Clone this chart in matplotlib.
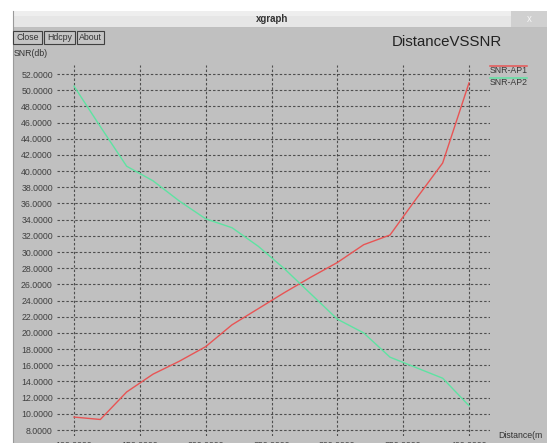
import matplotlib
matplotlib.use("Agg")
import matplotlib.pyplot as plt
from matplotlib.patches import Rectangle
from matplotlib.lines import Line2D

# ---- data ----
distance = [100, 120, 140, 160, 180, 200, 220, 240, 260, 280, 300, 320, 340, 360, 380, 400]
snr_ap1 = [9.6, 9.3, 12.7, 14.9, 16.5, 18.3, 21.0, 23.0, 25.0, 26.9, 28.7, 30.9, 32.1, 36.6, 41.0, 50.9]
snr_ap2 = [50.5, 45.5, 40.6, 38.8, 36.3, 34.1, 33.0, 30.7, 27.9, 24.8, 21.7, 20.0, 17.0, 15.7, 14.4, 11.0]
series_names = ["SNR-AP1", "SNR-AP2"]
yticks = list(range(8, 53, 2))
xticks = [100, 150, 200, 250, 300, 350, 400]
title = "DistanceVSSNR"
ylabel = "SNR(db)"
xlabel = "Distance(m"
buttons = ["Close", "Hdcpy", "About"]

W, H = 547, 443
FONT = "Liberation Sans"
plt.rcParams['font.family'] = [FONT, 'DejaVu Sans']

fig = plt.figure(figsize=(W / 100, H / 100), dpi=100)
fig.patch.set_facecolor("white")

def fx(x):
    return x / W

def fy(y):
    return 1 - y / H

def rect(x0, y0, x1, y1, z, **kw):
    fig.patches.append(Rectangle((fx(x0), fy(y1)), fx(x1) - fx(x0), fy(y0) - fy(y1),
                                 transform=fig.transFigure, zorder=z, **kw))

# window frame
rect(13, 27, W, H, -10, facecolor="#c0c0c0", edgecolor="none")
rect(13, 11, W, 27, -9, facecolor="#e6e6e6", edgecolor="#bcbcbc", linewidth=0.6)
rect(13, 11, W, 16, -8, facecolor="#eeeeee", edgecolor="none")
rect(511, 11, W, 27, -7, facecolor="#d0d0d0", edgecolor="none")
fig.text(fx(529), fy(19), "x", color="#f6f6f6", fontsize=7, ha="center", va="center", zorder=3)
fig.text(fx(272), fy(19.5), "xgraph", fontsize=7, fontweight="bold", color="#333333",
         ha="center", va="center", zorder=3)
fig.lines.append(Line2D([fx(13), fx(13)], [fy(11), fy(H)], transform=fig.transFigure,
                        color="#9a9a9a", linewidth=0.8, zorder=2))

# buttons
bx = [(13, 42), (44, 75), (77, 104)]
for (x0, x1), name in zip(bx, buttons):
    rect(x0, 31, x1, 44, 2, facecolor="#c4c4c4", edgecolor="#404040", linewidth=0.8)
    fig.text(fx((x0 + x1) / 2), fy(37.5), name, fontsize=6.3, color="#333333",
             ha="center", va="center", zorder=3)

fig.text(fx(14), fy(53), ylabel, fontsize=6.3, color="#333333", ha="left", va="center")
fig.text(fx(447), fy(42), title, fontsize=10.8, color="#222222", ha="center", va="center")
fig.text(fx(498), fy(436), xlabel, fontsize=6.3, color="#333333", ha="left", va="center")

# plot area
ax = fig.add_axes([fx(57), fy(436), fx(490) - fx(57), fy(65) - fy(436)])
ax.set_zorder(1)
ax.patch.set_visible(False)
pxx = 395 / 300.0
pxy = 356 / 44.0
ax.set_xlim(100 - (74 - 57) / pxx, 400 + (490 - 469) / pxx)
ax.set_ylim(8 - (436 - 430) / pxy, 52 + (74 - 65) / pxy)
for s in ax.spines.values():
    s.set_visible(False)
ax.set_yticks(yticks)
ax.set_yticklabels([f"{v:.4f}" for v in yticks])
ax.set_xticks(xticks)
ax.set_xticklabels([f"{v:.4f}" for v in xticks])
ax.tick_params(axis="both", length=0, labelsize=6.3, labelcolor="#404040")
ax.tick_params(axis="y", pad=3)
ax.tick_params(axis="x", pad=3.5)
ax.grid(True, color="#3a3a3a", linestyle=(0, (2.2, 1.8)), linewidth=0.8, alpha=0.85)
ax.set_axisbelow(True)

colors = ["#e85454", "#5ee3a2"]
ax.plot(distance, snr_ap1, color=colors[0], linewidth=1.0, zorder=3)
ax.plot(distance, snr_ap2, color=colors[1], linewidth=1.0, zorder=3)

# legend (xgraph style: line above label)
for i, (name, c) in enumerate(zip(series_names, colors)):
    yl = 66 + 12 * i
    ax.plot([fx(490), fx(527)], [fy(yl), fy(yl)], transform=fig.transFigure,
            color=c, linewidth=1.1, clip_on=False, zorder=5)
    fig.text(fx(490), fy(yl + 4.5), name, fontsize=6.3, color="#383838", ha="left",
             va="center", zorder=5)

fig.savefig("out.png", dpi=100, facecolor=fig.get_facecolor())
